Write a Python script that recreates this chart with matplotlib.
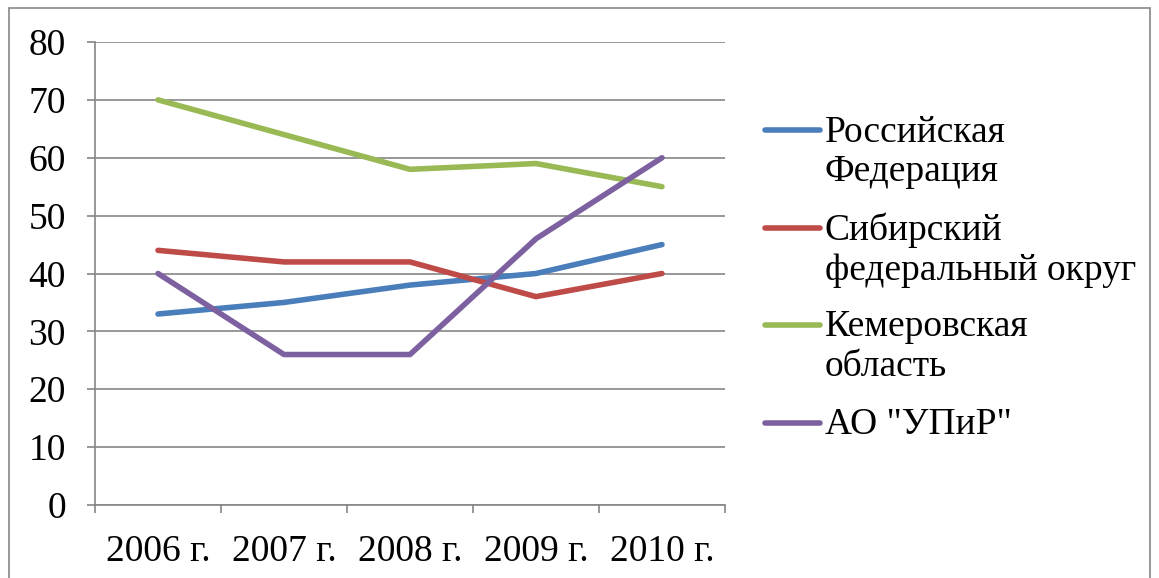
import matplotlib
matplotlib.use('Agg')
import matplotlib.pyplot as plt
from matplotlib.lines import Line2D
from matplotlib.patches import Rectangle

years = ['2006 г.', '2007 г.', '2008 г.', '2009 г.', '2010 г.']
series_names = ['Российская\nФедерация', 'Сибирский\nфедеральный округ',
                'Кемеровская\nобласть', 'АО "УПиР"']
russia = [33, 35, 38, 40, 45]
siberia = [44, 42, 42, 36, 40]
kemerovo = [70, 64, 58, 59, 55]
upir = [40, 26, 26, 46, 60]
colors = ['#4A7EBB', '#BE4B48', '#98B954', '#7D60A0']

plt.rcParams['font.family'] = 'serif'
plt.rcParams['font.serif'] = ['Liberation Serif']

fig = plt.figure(figsize=(11.59, 5.78), dpi=100)
ax = fig.add_axes([95 / 1159, 73 / 578, 630 / 1159, 463 / 578])

x = range(len(years))
for vals, c in zip([russia, siberia, kemerovo, upir], colors):
    ax.plot(x, vals, color=c, lw=4, solid_capstyle='round', solid_joinstyle='round')

ax.set_xlim(-0.5, len(years) - 0.5)
ax.set_ylim(0, 80)
ax.set_yticks(range(0, 81, 10))
ax.tick_params(axis='y', labelsize=27, length=6, width=1.2, color='#868686', pad=15)
ax.grid(axis='y', color='#868686', lw=1.2)
ax.set_axisbelow(True)

# category boundaries as major ticks, labels centred on minor ticks
ax.set_xticks([i - 0.5 for i in range(len(years) + 1)])
ax.set_xticklabels([])
ax.set_xticks(list(x), minor=True)
ax.set_xticklabels(years, minor=True)
ax.tick_params(axis='x', which='major', length=6, width=1.2, color='#868686')
ax.tick_params(axis='x', which='minor', length=0, labelsize=27, pad=21)

for s in ['top', 'right']:
    ax.spines[s].set_visible(False)
for s in ['left', 'bottom']:
    ax.spines[s].set_color('#868686')
    ax.spines[s].set_linewidth(1.2)

# legend drawn by hand so the handle sits on the first line of each label
W, H = 1159, 578
y_first = [130, 228, 325, 423]
for name, c, yp in zip(series_names, colors, y_first):
    fig.add_artist(Line2D([765 / W, 820 / W], [1 - yp / H, 1 - yp / H],
                          color=c, lw=4, solid_capstyle='round'))
    fig.text(825 / W, 1 - (yp - 15) / H, name, fontsize=27, va='top', ha='left',
             linespacing=1.2)

fig.add_artist(Rectangle((9 / W, -0.02), 1141 / W, 1 - 8 / H + 0.02,
                         transform=fig.transFigure, fill=False,
                         edgecolor='#868686', lw=1.2))

fig.savefig('out.png', dpi=100)
